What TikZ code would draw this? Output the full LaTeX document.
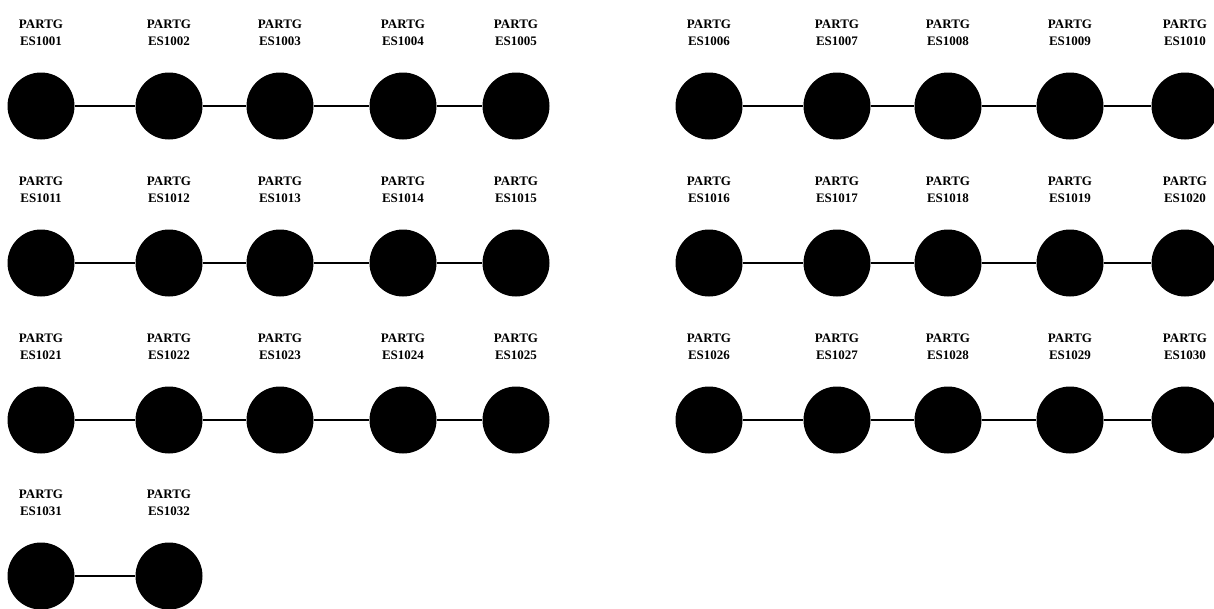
\documentclass[tikz,border=0pt]{standalone}
\usepackage{fontspec}
\setmainfont{Liberation Serif}
\usetikzlibrary{positioning}

\begin{document}
\begin{tikzpicture}[x=1pt, y=-1pt, node distance=26pt,
  disc/.style={circle, fill=black, minimum size=67pt, inner sep=0pt},
  tag/.style={align=center, inner sep=0pt, font=\bfseries\fontsize{13}{17}\selectfont},
  wire/.style={line width=1.6pt}]
\useasboundingbox (0,0) rectangle (1214,608);
% three full rows, two groups of five
\foreach \r/\y in {0/106, 1/263, 2/420} {
  \foreach \k/\x in {1/41, 2/169, 3/280, 4/403, 5/516, 6/709, 7/837, 8/948, 9/1070, 10/1185} {
    \pgfmathtruncatemacro\n{10*\r+\k}
    \pgfmathtruncatemacro\id{1000+\n}
    \node[disc] (c\n) at (\x,\y) {};
    \node[tag, above=of c\n] (t\n) {PARTG\\ES\id};
  }
  \foreach \k in {1,2,3,4,6,7,8,9} {
    \pgfmathtruncatemacro\n{10*\r+\k}
    \pgfmathtruncatemacro\m{\n+1}
    \draw[wire] (c\n) -- (c\m);
  }
}
% last short row
\node[disc] (c31) at (41,576) {};
\node[disc] (c32) at (169,576) {};
\node[tag, above=of c31] (t31) {PARTG\\ES1031};
\node[tag, above=of c32] (t32) {PARTG\\ES1032};
\draw[wire] (c31) -- (c32);
\end{tikzpicture}
\end{document}
